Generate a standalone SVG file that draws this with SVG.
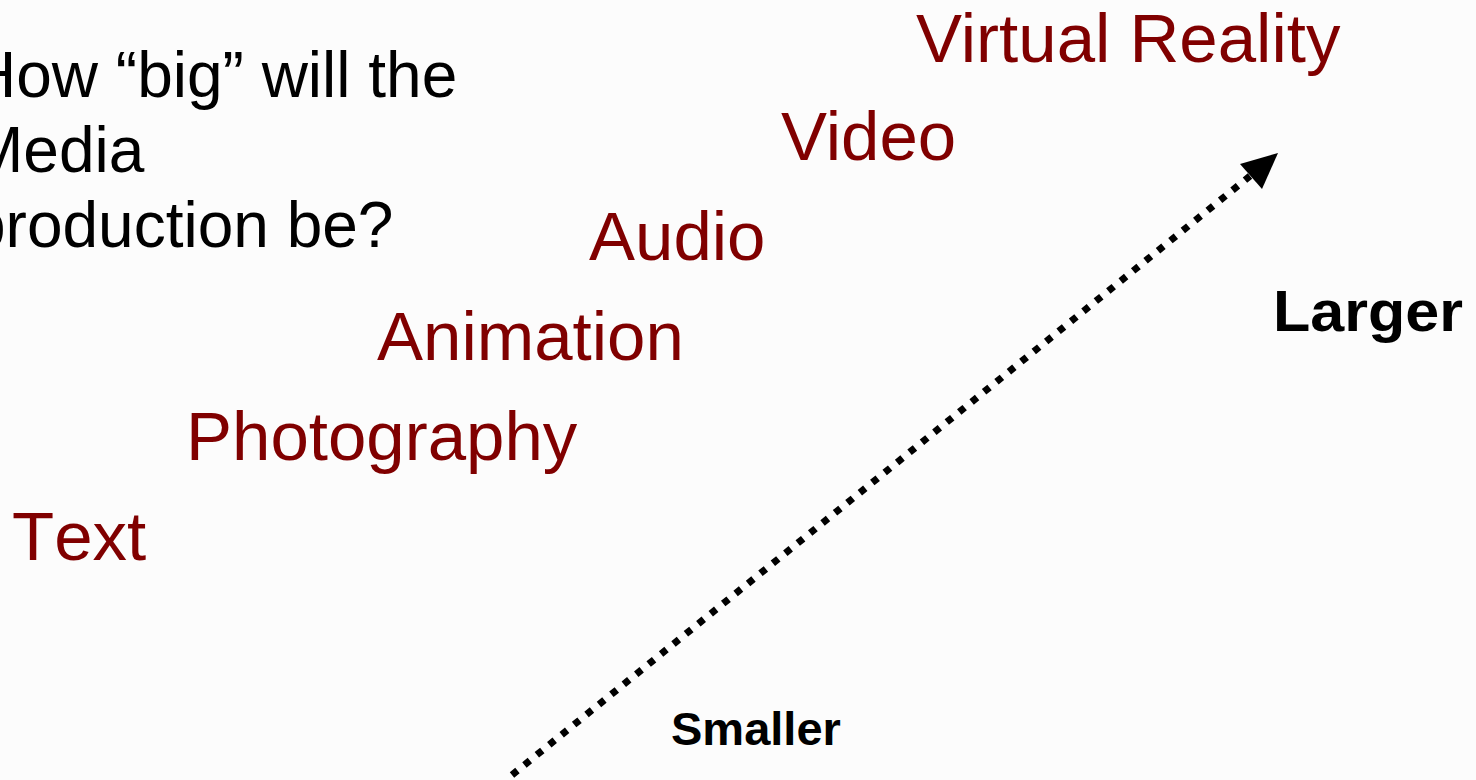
<svg xmlns="http://www.w3.org/2000/svg" width="1476" height="780" viewBox="0 0 1476 780">
<defs>
<style>
.q{font-family:"Liberation Sans",Arial,sans-serif;font-size:64px;fill:#000}
.m{font-family:"Liberation Sans",Arial,sans-serif;font-size:69px;fill:#800000}
.b{font-family:"Liberation Sans",Arial,sans-serif;font-weight:bold;fill:#000}
</style>
</defs>
<rect width="1476" height="780" fill="#fcfcfc"/>
<g id="question">
<text class="q" x="-30" y="97">How “big” will the</text>
<text class="q" x="-30" y="172">Media</text>
<text class="q" x="-30" y="247">production be?</text>
</g>
<g id="text"><text class="m" x="12" y="560" style="font-kerning:none" font-size="70">Text</text></g>
<g id="photography"><text class="m" x="186" y="460">Photography</text></g>
<g id="animation"><text class="m" x="377" y="360">Animation</text></g>
<g id="audio"><text class="m" x="589" y="260">Audio</text></g>
<g id="video"><text class="m" x="781" y="160">Video</text></g>
<g id="vr"><text class="m" x="916" y="62">Virtual Reality</text></g>
<g id="larger"><text class="b" x="1273" y="331" font-size="58" textLength="190" lengthAdjust="spacingAndGlyphs">Larger</text></g>
<g id="smaller"><text class="b" x="671" y="745" font-size="47">Smaller</text></g>
<g id="connectors">
<line x1="512" y1="775" x2="1250" y2="176" stroke="#000" stroke-width="7" stroke-dasharray="7 9"/>
<path d="M1278,153 L1240,164 L1262,189 z" fill="#000"/>
</g>
</svg>
